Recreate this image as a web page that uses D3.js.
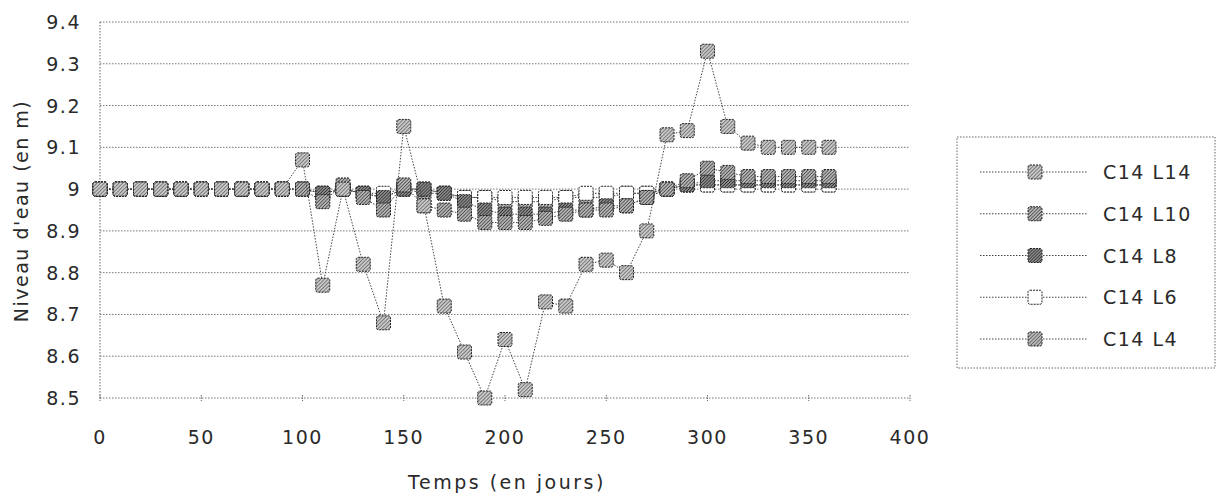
<!DOCTYPE html>
<html>
<head>
<meta charset="utf-8">
<script src="https://cdn.jsdelivr.net/npm/d3@7"></script>
<style>
  body { margin:0; background:#fff; }
  svg text { font-family: "DejaVu Sans", Verdana, sans-serif; fill:#2a2a2a; }
</style>
</head>
<body>
<svg id="chart" width="1218" height="497"></svg>
<script>
// donnees
var jours = d3.range(0, 361, 10);
var serieNoms = ["C14 L14", "C14 L10", "C14 L8", "C14 L6", "C14 L4"];

var c14L14 = [9,9,9,9,9,9,9,9,9,9, 9.07,8.77,9.0,8.82,8.68,9.15,8.96,8.72,8.61,8.5,
              8.64,8.52,8.73,8.72,8.82,8.83,8.8,8.9,9.13,9.14, 9.33,9.15,9.11,9.1,9.1,9.1,9.1];
var c14L10 = [9,9,9,9,9,9,9,9,9,9, 9.0,8.97,9.01,8.98,8.95,9.01,8.96,8.95,8.94,8.92,
              8.92,8.92,8.93,8.94,8.95,8.95,8.96,8.98,9.0,9.02, 9.05,9.04,9.03,9.03,9.03,9.03,9.03];
var c14L8  = [9,9,9,9,9,9,9,9,9,9, 9.0,8.99,9.0,8.99,8.98,9.0,9.0,8.99,8.97,8.95,
              8.94,8.94,8.94,8.95,8.95,8.96,8.96,8.98,9.0,9.01, 9.02,9.02,9.02,9.02,9.02,9.02,9.02];
var c14L6  = [9,9,9,9,9,9,9,9,9,9, 9.0,8.99,9.0,8.99,8.99,9.0,9.0,8.99,8.98,8.98,
              8.98,8.98,8.98,8.98,8.99,8.99,8.99,8.99,9.0,9.01, 9.01,9.01,9.01,9.01,9.01,9.01,9.01];
var c14L4  = [9,9,9,9,9,9,9,9,9,9, 9.0,8.99,9.0,8.99,8.98,9.0,8.99,8.99,8.98,8.98,
              8.97,8.97,8.97,8.98,8.98,8.98,8.99,8.99,9.0,9.01, 9.01,9.01,9.01,9.01,9.01,9.01,9.01];

var yTicks = [8.5,8.6,8.7,8.8,8.9,9.0,9.1,9.2,9.3,9.4];
var yTickLabels = ["8.5","8.6","8.7","8.8","8.9","9","9.1","9.2","9.3","9.4"];
var xTicks = [0,50,100,150,200,250,300,350,400];

var series = [
  {nom:serieNoms[0], vals:c14L14, motif:"hatchA"},
  {nom:serieNoms[1], vals:c14L10, motif:"hatchB"},
  {nom:serieNoms[2], vals:c14L8,  motif:"hatchC"},
  {nom:serieNoms[3], vals:c14L6,  motif:"blanc"},
  {nom:serieNoms[4], vals:c14L4,  motif:"hatchD"}
];

var svg = d3.select("#chart");
var marge = {left:100, right:910, top:22, bottom:398};

var x = d3.scaleLinear().domain([0,400]).range([marge.left, marge.right]);
var y = d3.scaleLinear().domain([8.5,9.4]).range([marge.bottom, marge.top]);

// motifs hachures pour les marqueurs
var defs = svg.append("defs");
function motif(id, fond, trait, pas){
  var p = defs.append("pattern").attr("id",id).attr("patternUnits","userSpaceOnUse")
      .attr("width",pas).attr("height",pas).attr("patternTransform","rotate(45)");
  p.append("rect").attr("width",pas).attr("height",pas).attr("fill",fond);
  p.append("line").attr("x1",0).attr("y1",0).attr("x2",0).attr("y2",pas)
      .attr("stroke",trait).attr("stroke-width",1.3);
}
motif("hatchA","#c8c8c8","#555",2.6);
motif("hatchB","#b4b4b4","#333",2.4);
motif("hatchC","#8a8a8a","#222",2.2);
motif("hatchD","#bcbcbc","#444",2.5);

// grille
svg.append("g").selectAll("line").data(yTicks).enter().append("line")
  .attr("x1",marge.left).attr("x2",marge.right)
  .attr("y1",d=>y(d)).attr("y2",d=>y(d))
  .attr("stroke","#777").attr("stroke-width",1).attr("stroke-dasharray","1.5,1.5");

// axe vertical
svg.append("line").attr("x1",marge.left).attr("x2",marge.left)
  .attr("y1",marge.top).attr("y2",marge.bottom)
  .attr("stroke","#666").attr("stroke-dasharray","1.5,1.5");

// petites graduations en x
svg.append("g").selectAll("line").data(xTicks).enter().append("line")
  .attr("x1",d=>x(d)).attr("x2",d=>x(d))
  .attr("y1",marge.bottom-3).attr("y2",marge.bottom+3)
  .attr("stroke","#666").attr("stroke-dasharray","1.5,1");

// etiquettes
svg.append("g").selectAll("text").data(yTicks).enter().append("text")
  .attr("x",81).attr("y",d=>y(d)+7)
  .attr("text-anchor","end").style("font-size","19px").style("letter-spacing","1.5px")
  .text((d,i)=>yTickLabels[i]);

svg.append("g").selectAll("text").data(xTicks).enter().append("text")
  .attr("x",d=>x(d)).attr("y",444)
  .attr("text-anchor","middle").style("font-size","19px").style("letter-spacing","1.5px")
  .text(d=>d);

svg.append("text").attr("x",x(200)+2).attr("y",489)
  .attr("text-anchor","middle").style("font-size","19px").style("letter-spacing","2.5px")
  .text("Temps (en jours)");

svg.append("text")
  .attr("transform","translate(28,211) rotate(-90)")
  .attr("text-anchor","middle").style("font-size","19px").style("letter-spacing","1.5px")
  .text("Niveau d'eau (en m)");

var ligne = d3.line().x((d,i)=>x(jours[i])).y(d=>y(d));
var taille = 14;

// on dessine de la derniere a la premiere pour que L14 soit dessus
series.slice().reverse().forEach(function(s){
  var g = svg.append("g");
  g.append("path").datum(s.vals).attr("d",ligne)
    .attr("fill","none").attr("stroke","#444").attr("stroke-width",1)
    .attr("stroke-dasharray","1.5,1.5");
  g.selectAll("rect").data(s.vals).enter().append("rect")
    .attr("x",(d,i)=>x(jours[i])-taille/2)
    .attr("y",d=>y(d)-taille/2)
    .attr("width",taille).attr("height",taille).attr("rx",2)
    .attr("fill",s.motif=="blanc" ? "#fff" : "url(#"+s.motif+")")
    .attr("stroke","#222").attr("stroke-width",1).attr("stroke-dasharray","2,1");
});

// legende
var leg = svg.append("g");
leg.append("rect").attr("x",957).attr("y",137).attr("width",258).attr("height",231)
  .attr("fill","none").attr("stroke","#666").attr("stroke-dasharray","1.5,1.5");

var legY = d3.scalePoint().domain(serieNoms).range([172,339]);
series.forEach(function(s){
  var yy = legY(s.nom);
  leg.append("line").attr("x1",980).attr("x2",1088).attr("y1",yy).attr("y2",yy)
    .attr("stroke","#444").attr("stroke-dasharray","1.5,1.5");
  leg.append("rect").attr("x",1035-taille/2).attr("y",yy-taille/2)
    .attr("width",taille).attr("height",taille).attr("rx",2)
    .attr("fill",s.motif=="blanc" ? "#fff" : "url(#"+s.motif+")")
    .attr("stroke","#222").attr("stroke-dasharray","2,1");
  leg.append("text").attr("x",1103).attr("y",yy+7).style("font-size","19px")
    .style("letter-spacing","1.5px").text(s.nom);
});
</script>
</body>
</html>
